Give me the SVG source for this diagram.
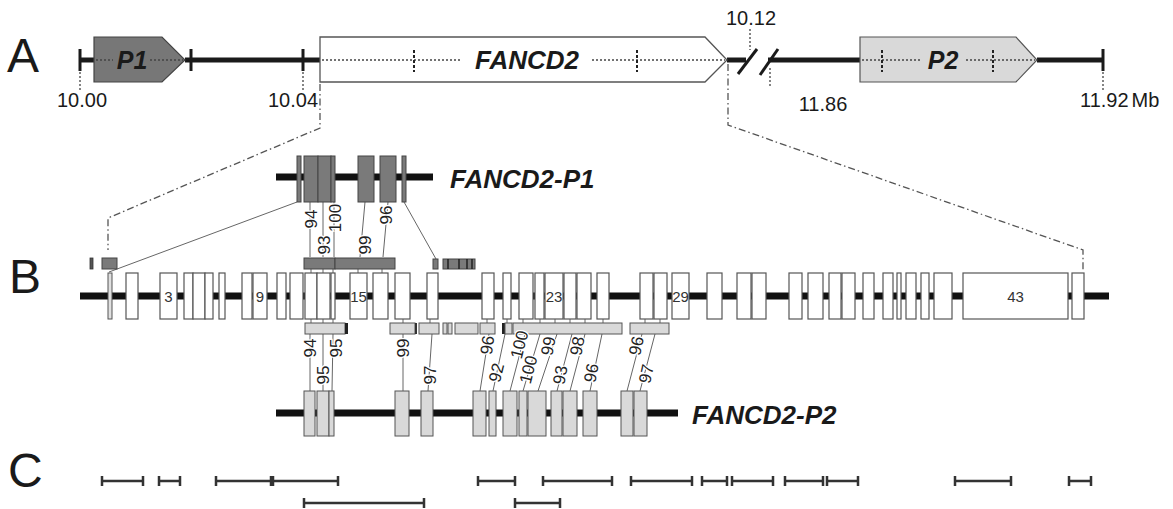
<svg xmlns="http://www.w3.org/2000/svg" width="1173" height="509" viewBox="0 0 1173 509">
<style>
.lt{font-family:"Liberation Sans",Arial,sans-serif;fill:#1a1a1a}
.big{font-size:48px}
.num{font-family:"Liberation Sans",Arial,sans-serif;font-size:20px;fill:#1a1a1a}
.bi{font-family:"Liberation Sans",Arial,sans-serif;font-weight:bold;font-style:italic;fill:#1a1a1a}
.sm{font-family:"Liberation Sans",Arial,sans-serif;font-size:17px;fill:#222;text-anchor:middle;paint-order:stroke;stroke:#fff;stroke-width:2.5px}
.ex{font-family:"Liberation Sans",Arial,sans-serif;font-size:15px;fill:#333;text-anchor:middle}
.axis{stroke:#1a1a1a;stroke-width:5;fill:none}
.tick{stroke:#1a1a1a;stroke-width:3}
.dot{stroke:#444;stroke-width:1.3;stroke-dasharray:2 2;fill:none}
.dash{stroke:#222;stroke-width:2;stroke-dasharray:3 2}
.dd{stroke:#555;stroke-width:1.3;stroke-dasharray:7 3 1.5 3;fill:none}
.bb{stroke:#111;stroke-width:7}
.exw{fill:#fff;stroke:#555;stroke-width:1.2}
.exd{fill:#7a7a7a;stroke:#444;stroke-width:1}
.exl{fill:#d9d9d9;stroke:#555;stroke-width:1}
.thin{stroke:#666;stroke-width:1;fill:none}
.rng{stroke:#333;stroke-width:2.5}
</style>

<!-- panel letters -->
<text class="lt big" x="7" y="72">A</text>
<text class="lt big" x="9" y="293">B</text>
<text class="lt big" x="8" y="487">C</text>

<!-- Panel A -->
<g id="axisA">
  <line class="axis" x1="80" y1="60" x2="94" y2="60"/>
  <line class="axis" x1="185" y1="60" x2="320" y2="60"/>
  <line class="axis" x1="727" y1="60" x2="746" y2="60"/>
  <line class="axis" x1="768" y1="60" x2="860" y2="60"/>
  <line class="axis" x1="1037" y1="60" x2="1103" y2="60"/>
  <line class="tick" x1="738" y1="74" x2="757" y2="49"/>
  <line class="tick" x1="760" y1="75" x2="778" y2="49"/>
  <line class="tick" x1="80" y1="49" x2="80" y2="71"/>
  <line class="tick" x1="191" y1="49" x2="191" y2="71"/>
  <line class="tick" x1="303" y1="49" x2="303" y2="71"/>
  <line class="tick" x1="1103" y1="49" x2="1103" y2="71"/>
  <line class="dot" x1="80" y1="72" x2="80" y2="90"/>
  <line class="dot" x1="303" y1="72" x2="303" y2="90"/>
  <line class="dot" x1="750" y1="29" x2="750" y2="50"/>
  <line class="dot" x1="770" y1="68" x2="770" y2="88"/>
  <line class="dot" x1="1103" y1="72" x2="1103" y2="90"/>
  <text class="num" x="82" y="107" text-anchor="middle">10.00</text>
  <text class="num" x="293" y="107" text-anchor="middle">10.04</text>
  <text class="num" x="751" y="25" text-anchor="middle">10.12</text>
  <text class="num" x="823" y="111" text-anchor="middle">11.86</text>
  <text class="num" x="1080" y="107">11.92<tspan dx="3">Mb</tspan></text>
</g>

<g id="geneP1">
  <polygon points="94,37 162,37 185,60 162,82 94,82" fill="#777" stroke="#444" stroke-width="1.2"/>
  <line class="dot" x1="96" y1="60" x2="113" y2="60"/>
  <line class="dot" x1="150" y1="60" x2="183" y2="60"/>
  <text class="bi" x="132" y="69" font-size="25" text-anchor="middle">P1</text>
</g>

<g id="geneFANCD2">
  <polygon points="320,37 705,37 727,60 705,82 320,82" fill="#fff" stroke="#555" stroke-width="1.3"/>
  <line class="dot" x1="322" y1="60" x2="460" y2="60"/>
  <line class="dot" x1="592" y1="60" x2="725" y2="60"/>
  <line class="dash" x1="414" y1="50" x2="414" y2="72"/>
  <line class="dash" x1="637" y1="50" x2="637" y2="72"/>
  <text class="bi" x="527" y="69" font-size="26" text-anchor="middle">FANCD2</text>
</g>

<g id="geneP2">
  <polygon points="860,37 1016,37 1037,60 1016,82 860,82" fill="#d9d9d9" stroke="#555" stroke-width="1.2"/>
  <line class="dot" x1="862" y1="60" x2="920" y2="60"/>
  <line class="dot" x1="966" y1="60" x2="1035" y2="60"/>
  <line class="dash" x1="882" y1="50" x2="882" y2="72"/>
  <line class="dash" x1="993" y1="50" x2="993" y2="72"/>
  <text class="bi" x="943" y="69" font-size="25" text-anchor="middle">P2</text>
</g>

<!-- connectors (zoom lines and exon links) -->
<g id="connectors">
  <polyline class="dd" points="320,84 320,128 108,218 108,250"/>
  <polyline class="dd" points="728,64 728,125 1083,250 1083,272"/>
  <!-- P1 to B -->
  <line class="thin" x1="297" y1="202" x2="109" y2="272"/>
  <line class="thin" x1="404" y1="202" x2="436" y2="259"/>
  <line class="thin" x1="310" y1="202" x2="310" y2="257"/>
  <line class="thin" x1="323" y1="202" x2="323" y2="257"/>
  <line class="thin" x1="334" y1="202" x2="334" y2="257"/>
  <line class="thin" x1="365" y1="202" x2="360" y2="257"/>
  <line class="thin" x1="388" y1="202" x2="383" y2="257"/>
  <!-- small ticks dark bar to exons -->
  <path class="thin" d="M311,269V273M323,269V273M333,269V273M358,269V273M382,269V273"/>
  <!-- small ticks exons to light bars -->
  <path class="thin" d="M311,319V323M323,319V323M333,319V323M403,319V323M430,319V323M487,319V323M507,319V323M523,319V323M540,319V323M555,319V323M570,319V323M585,319V323M603,319V323M645,319V323M660,319V323"/>
  <!-- light bars to P2 -->
  <line class="thin" x1="310" y1="334" x2="310" y2="391"/>
  <line class="thin" x1="323" y1="334" x2="323" y2="391"/>
  <line class="thin" x1="333" y1="334" x2="332" y2="391"/>
  <line class="thin" x1="403" y1="334" x2="403" y2="391"/>
  <line class="thin" x1="432" y1="334" x2="428" y2="391"/>
  <line class="thin" x1="489" y1="334" x2="480" y2="391"/>
  <line class="thin" x1="505" y1="334" x2="493" y2="391"/>
  <line class="thin" x1="525" y1="334" x2="510" y2="391"/>
  <line class="thin" x1="540" y1="334" x2="523" y2="391"/>
  <line class="thin" x1="557" y1="334" x2="538" y2="391"/>
  <line class="thin" x1="572" y1="334" x2="557" y2="391"/>
  <line class="thin" x1="585" y1="334" x2="570" y2="391"/>
  <line class="thin" x1="602" y1="334" x2="590" y2="391"/>
  <line class="thin" x1="642" y1="334" x2="627" y2="391"/>
  <line class="thin" x1="655" y1="334" x2="640" y2="391"/>
</g>

<!-- FANCD2-P1 transcript -->
<g id="transcriptP1">
  <line class="bb" x1="276" y1="177" x2="433" y2="177" stroke-width="6"/>
  <rect class="exd" x="297" y="156" width="4" height="46"/>
  <rect class="exd" x="304" y="156" width="14" height="46"/>
  <rect class="exd" x="318" y="156" width="13" height="46"/>
  <rect class="exd" x="331" y="156" width="4" height="46"/>
  <rect class="exd" x="358" y="156" width="16" height="46"/>
  <rect class="exd" x="380" y="156" width="16" height="46"/>
  <rect class="exd" x="402" y="156" width="4" height="46"/>
  <text class="bi" x="450" y="188" font-size="26">FANCD2-P1</text>
  <text class="sm" transform="translate(317,219) rotate(-90)">94</text>
  <text class="sm" transform="translate(330,245) rotate(-90)">93</text>
  <text class="sm" transform="translate(341,218) rotate(-90)">100</text>
  <text class="sm" transform="translate(371,245) rotate(-90)">99</text>
  <text class="sm" transform="translate(392,215) rotate(-90)">96</text>
</g>

<!-- dark aligned bars above B -->
<g id="barsP1">
  <rect x="90" y="258" width="3" height="11" fill="#555" stroke="#333" stroke-width="0.8"/>
  <rect class="exd" x="102" y="258" width="15" height="11"/>
  <rect class="exd" x="304" y="258" width="31" height="11"/>
  <rect class="exd" x="335" y="258" width="60" height="11"/>
  <rect class="exd" x="433" y="259" width="5" height="10"/>
  <rect class="exd" x="443" y="259" width="32" height="10"/>
  <path d="M448,259V269M459,259V269M467,259V269M472,259V269" stroke="#222" stroke-width="1.5"/>
</g>

<!-- B: full gene exon structure -->
<g id="geneB">
  <line class="bb" x1="80" y1="296" x2="1109" y2="296"/>
  <rect x="108" y="273" width="4" height="46" fill="#e0e0e0" stroke="#555" stroke-width="1"/>
  <rect class="exw" x="126" y="273" width="12" height="46"/>
  <rect class="exw" x="160" y="273" width="17" height="46"/>
  <rect class="exw" x="184" y="273" width="9" height="46"/>
  <rect class="exw" x="193" y="273" width="12" height="46"/>
  <rect class="exw" x="205" y="273" width="8" height="46"/>
  <rect class="exw" x="219" y="273" width="6" height="46"/>
  <rect class="exw" x="242" y="273" width="10" height="46"/>
  <rect class="exw" x="253" y="273" width="14" height="46"/>
  <rect class="exw" x="277" y="273" width="9" height="46"/>
  <rect class="exw" x="290" y="273" width="13" height="46"/>
  <rect class="exw" x="305" y="273" width="12" height="46"/>
  <rect class="exw" x="317" y="273" width="13" height="46"/>
  <rect class="exw" x="331" y="273" width="4" height="46"/>
  <rect class="exw" x="350" y="273" width="17" height="46"/>
  <rect class="exw" x="373" y="273" width="15" height="46"/>
  <rect class="exw" x="395" y="273" width="15" height="46"/>
  <rect class="exw" x="427" y="273" width="11" height="46"/>
  <rect class="exw" x="482" y="273" width="12" height="46"/>
  <rect class="exw" x="503" y="273" width="8" height="46"/>
  <rect class="exw" x="519" y="273" width="14" height="46"/>
  <rect class="exw" x="535" y="273" width="9" height="46"/>
  <rect class="exw" x="545" y="273" width="18" height="46"/>
  <rect class="exw" x="564" y="273" width="12" height="46"/>
  <rect class="exw" x="577" y="273" width="14" height="46"/>
  <rect class="exw" x="597" y="273" width="12" height="46"/>
  <rect class="exw" x="640" y="273" width="13" height="46"/>
  <rect class="exw" x="654" y="273" width="13" height="46"/>
  <rect class="exw" x="672" y="273" width="17" height="46"/>
  <rect class="exw" x="707" y="273" width="15" height="46"/>
  <rect class="exw" x="737" y="273" width="14" height="46"/>
  <rect class="exw" x="752" y="273" width="14" height="46"/>
  <rect class="exw" x="789" y="273" width="13" height="46"/>
  <rect class="exw" x="808" y="273" width="15" height="46"/>
  <rect class="exw" x="829" y="273" width="12" height="46"/>
  <rect class="exw" x="842" y="273" width="13" height="46"/>
  <rect class="exw" x="863" y="273" width="11" height="46"/>
  <rect class="exw" x="883" y="273" width="10" height="46"/>
  <rect class="exw" x="897" y="273" width="4" height="46"/>
  <rect class="exw" x="906" y="273" width="10" height="46"/>
  <rect class="exw" x="921" y="273" width="8" height="46"/>
  <rect class="exw" x="934" y="273" width="18" height="46"/>
  <rect class="exw" x="963" y="273" width="105" height="46"/>
  <rect class="exw" x="1072" y="273" width="12" height="46"/>
  <text class="ex" x="168.5" y="302">3</text>
  <text class="ex" x="260" y="302">9</text>
  <text class="ex" x="358.5" y="302">15</text>
  <text class="ex" x="554" y="302">23</text>
  <text class="ex" x="680.5" y="302">29</text>
  <text class="ex" x="1015.5" y="302">43</text>
</g>

<!-- light aligned bars below B -->
<g id="barsP2">
  <rect class="exl" x="305" y="323" width="40" height="11"/>
  <rect x="345" y="323" width="3" height="11" fill="#222"/>
  <rect class="exl" x="390" y="323" width="25" height="11"/>
  <rect x="415" y="323" width="2" height="11" fill="#333"/>
  <rect class="exl" x="419" y="323" width="20" height="11"/>
  <rect class="exl" x="443" y="323" width="4" height="11"/>
  <rect class="exl" x="448" y="323" width="4" height="11"/>
  <rect class="exl" x="455" y="323" width="23" height="11"/>
  <rect class="exl" x="480" y="323" width="15" height="11"/>
  <rect x="502" y="323" width="3" height="11" fill="#222"/>
  <rect class="exl" x="505" y="323" width="7" height="11"/>
  <rect class="exl" x="513" y="323" width="109" height="11"/>
  <rect class="exl" x="630" y="323" width="39" height="11"/>
</g>

<!-- FANCD2-P2 transcript -->
<g id="transcriptP2">
  <line class="bb" x1="276" y1="413" x2="678" y2="413"/>
  <rect class="exl" x="304" y="391" width="11" height="45"/>
  <rect class="exl" x="317" y="391" width="12" height="45"/>
  <rect class="exl" x="329" y="391" width="5" height="45"/>
  <rect class="exl" x="395" y="391" width="14" height="45"/>
  <rect class="exl" x="421" y="391" width="12" height="45"/>
  <rect class="exl" x="473" y="391" width="13" height="45"/>
  <rect class="exl" x="489" y="391" width="7" height="45"/>
  <rect class="exl" x="503" y="391" width="14" height="45"/>
  <rect class="exl" x="519" y="391" width="8" height="45"/>
  <rect class="exl" x="528" y="391" width="18" height="45"/>
  <rect class="exl" x="551" y="391" width="11" height="45"/>
  <rect class="exl" x="563" y="391" width="14" height="45"/>
  <rect class="exl" x="583" y="391" width="14" height="45"/>
  <rect class="exl" x="621" y="391" width="12" height="45"/>
  <rect class="exl" x="634" y="391" width="13" height="45"/>
  <text class="bi" x="692" y="424" font-size="26">FANCD2-P2</text>
  <text class="sm" transform="translate(316,348) rotate(-90)">94</text>
  <text class="sm" transform="translate(342,348) rotate(-90)">95</text>
  <text class="sm" transform="translate(329,375) rotate(-90)">95</text>
  <text class="sm" transform="translate(409,348) rotate(-90)">99</text>
  <text class="sm" transform="translate(436,375) rotate(-90)">97</text>
  <text class="sm" transform="translate(493,346) rotate(-82)">96</text>
  <text class="sm" transform="translate(502,374) rotate(-76)">92</text>
  <text class="sm" transform="translate(525,346) rotate(-76)">100</text>
  <text class="sm" transform="translate(534,371) rotate(-76)">100</text>
  <text class="sm" transform="translate(554,347) rotate(-80)">99</text>
  <text class="sm" transform="translate(566,376) rotate(-80)">93</text>
  <text class="sm" transform="translate(583,347) rotate(-80)">98</text>
  <text class="sm" transform="translate(597,374) rotate(-80)">96</text>
  <text class="sm" transform="translate(642,347) rotate(-78)">96</text>
  <text class="sm" transform="translate(652,375) rotate(-78)">97</text>
</g>

<!-- Panel C ranges -->
<g id="rangesC">
  <path class="rng" d="M102,481H143M159,481H180M216,481H271M272,481H338M478,481H515M543,481H612M631,481H692M702,481H727M732,481H773M785,481H823M827,481H858M955,481H1011M1069,481H1091M304,503H424M515,503H560"/>
  <path class="rng" d="M102,476V486M143,476V486M159,476V486M180,476V486M216,476V486M271,476V486M273,476V486M338,476V486M478,476V486M515,476V486M543,476V486M612,476V486M631,476V486M692,476V486M702,476V486M727,476V486M732,476V486M773,476V486M785,476V486M823,476V486M827,476V486M858,476V486M955,476V486M1011,476V486M1069,476V486M1091,476V486M304,498V508M424,498V508M515,498V508M560,498V508"/>
</g>
</svg>
